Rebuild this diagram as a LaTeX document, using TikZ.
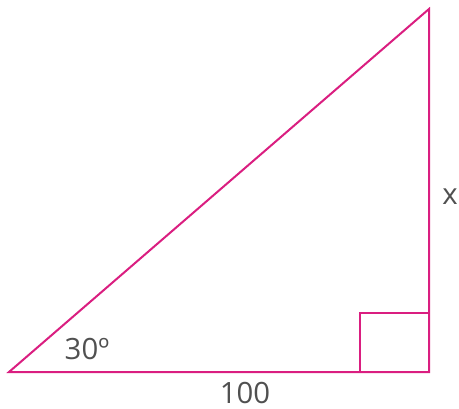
\documentclass[tikz,border=0pt]{standalone}
\usepackage{fontspec}
\setmainfont{Open Sans}
\usepackage{tikz}
\usetikzlibrary{positioning}
\definecolor{triPink}{RGB}{218,30,128}
\definecolor{textGrey}{RGB}{80,80,80}
\tikzstyle{side} = [draw=triPink, line width=1.5pt, line join=miter]
\tikzstyle{label} = [text=textGrey, font=\fontsize{22}{26}\selectfont, inner sep=0pt]
\begin{document}
\begin{tikzpicture}[x=0.75pt, y=-0.75pt]
        \useasboundingbox (0,0) rectangle (459,409);
        % vertices of the triangle
        \coordinate (left) at (9,372);
        \coordinate (right) at (429,372);
        \coordinate (top) at (429,9);
        \coordinate (sqA) at (360,372);
        \coordinate (sqB) at (360,313);
        \coordinate (sqC) at (429,313);

        \draw[side] (left) -- (right) -- (top) -- cycle;
        \draw[side] (sqA) -- (sqB) -- (sqC);

        \node[label] (angle) at (87,349) {30º};
        \node[label] (base) at (245,393) {100};
        \node[label] (height) at (450,197) {x};
    \end{tikzpicture}
\end{document}
